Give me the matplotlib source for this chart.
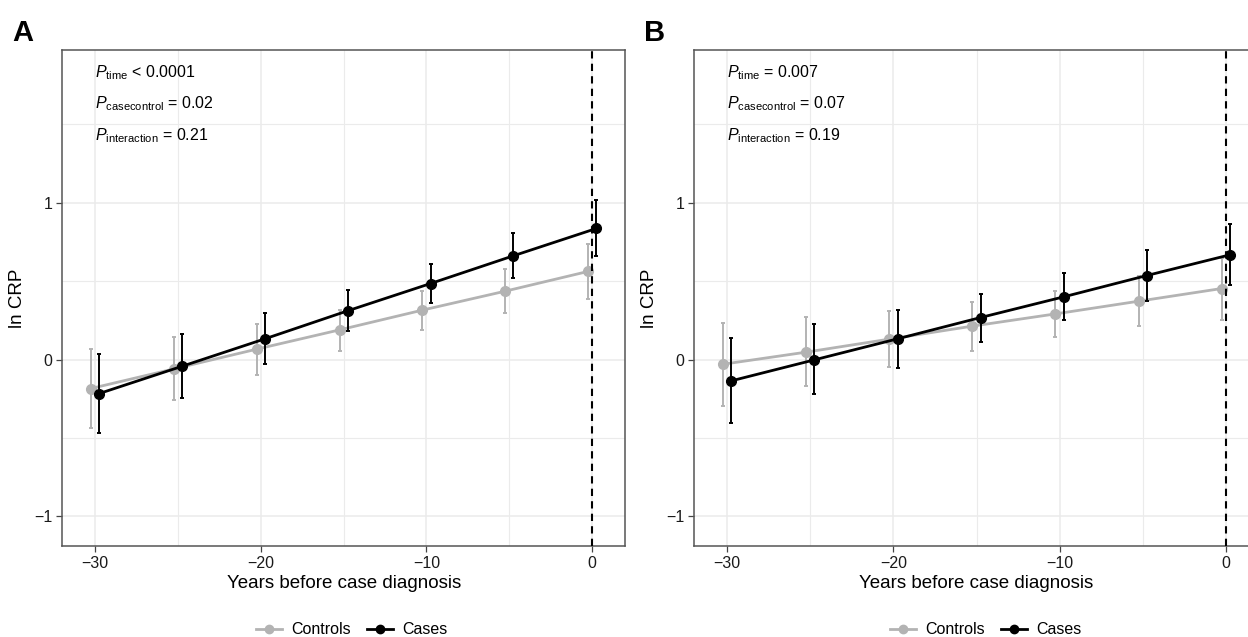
import numpy as np
import matplotlib
matplotlib.use("Agg")
import matplotlib.pyplot as plt
from matplotlib.lines import Line2D

plt.rcParams['font.family'] = ['Liberation Sans', 'DejaVu Sans']
plt.rcParams['mathtext.fontset'] = 'custom'
plt.rcParams['mathtext.rm'] = 'Liberation Sans'
plt.rcParams['mathtext.it'] = 'Liberation Sans:italic'

# years before diagnosis
years = [-30, -25, -20, -15, -10, -5, 0]

# panel A
a_ctrl = [-0.185, -0.06, 0.066, 0.189, 0.315, 0.436, 0.562]
a_ctrl_lo = [-0.434, -0.26, -0.096, 0.055, 0.189, 0.294, 0.383]
a_ctrl_hi = [0.066, 0.145, 0.226, 0.319, 0.438, 0.579, 0.74]
a_case = [-0.217, -0.043, 0.132, 0.311, 0.485, 0.662, 0.836]
a_case_lo = [-0.468, -0.245, -0.026, 0.181, 0.362, 0.521, 0.66]
a_case_hi = [0.034, 0.162, 0.296, 0.443, 0.611, 0.806, 1.017]
a_ptext = [r'$P_{\mathrm{time}}$ < 0.0001',
           r'$P_{\mathrm{casecontrol}}$ = 0.02',
           r'$P_{\mathrm{interaction}}$ = 0.21']

# panel B
b_ctrl = [-0.03, 0.047, 0.13, 0.213, 0.291, 0.372, 0.453]
b_ctrl_lo = [-0.294, -0.166, -0.049, 0.055, 0.145, 0.211, 0.255]
b_ctrl_hi = [0.234, 0.27, 0.311, 0.364, 0.438, 0.534, 0.645]
b_case = [-0.136, -0.002, 0.132, 0.268, 0.4, 0.536, 0.668]
b_case_lo = [-0.406, -0.223, -0.051, 0.111, 0.253, 0.372, 0.477]
b_case_hi = [0.136, 0.226, 0.319, 0.421, 0.551, 0.7, 0.866]
b_ptext = [r'$P_{\mathrm{time}}$ = 0.007',
           r'$P_{\mathrm{casecontrol}}$ = 0.07',
           r'$P_{\mathrm{interaction}}$ = 0.19']

GREY = '#b3b3b3'
W, H = 1248, 637
fig = plt.figure(figsize=(W / 100, H / 100), dpi=100)


def panel(left, right, ctrl, clo, chi, case, cslo, cshi, ptext, letter, legx):
    ax = fig.add_axes([left / W, (H - 546) / H, (right - left) / W, 496 / H])
    x = np.array(years, dtype=float)
    # grid
    for gx in [-30, -20, -10, 0]:
        ax.axvline(gx, color='#ebebeb', lw=1.1, zorder=0)
    for gx in [-25, -15, -5]:
        ax.axvline(gx, color='#ebebeb', lw=0.8, zorder=0)
    for gy in [-1, 0, 1]:
        ax.axhline(gy, color='#ebebeb', lw=1.1, zorder=0)
    for gy in [-0.5, 0.5, 1.5]:
        ax.axhline(gy, color='#ebebeb', lw=0.8, zorder=0)

    xc = x - 0.25
    xk = x + 0.25
    ctrl = np.array(ctrl); case = np.array(case)
    ax.errorbar(xc, ctrl, yerr=[ctrl - np.array(clo), np.array(chi) - ctrl],
                fmt='none', ecolor=GREY, elinewidth=1.4, capsize=1.6, capthick=1.4, zorder=2)
    ax.plot(xc, ctrl, '-o', color=GREY, lw=2.0, ms=7, zorder=3)
    ax.errorbar(xk, case, yerr=[case - np.array(cslo), np.array(cshi) - case],
                fmt='none', ecolor='black', elinewidth=1.4, capsize=1.6, capthick=1.4, zorder=4)
    ax.plot(xk, case, '-o', color='black', lw=2.0, ms=7, zorder=5)

    ax.axvline(0, color='black', lw=1.5, ls=(0, (3.5, 2.5)), zorder=6)

    for t, yy in zip(ptext, [1.83, 1.635, 1.43]):
        ax.text(-30, yy, t, fontsize=11.5, ha='left', va='center', color='black')

    ax.set_xlim(-32.0, 2.0)
    ax.set_ylim(-1.19, 1.975)
    ax.set_xticks([-30, -20, -10, 0])
    ax.set_yticks([-1, 0, 1])
    ax.tick_params(length=4, width=0.9, color='#444444', labelsize=11.5,
                   labelcolor='#1a1a1a', pad=3)
    for s in ax.spines.values():
        s.set_color('#555555')
        s.set_linewidth(1.1)
    ax.set_xlabel('Years before case diagnosis', fontsize=13.5, labelpad=3)
    ax.set_ylabel('ln CRP', fontsize=13.5, labelpad=6)

    fig.text((left - 50) / W, 1 - 33 / H, letter, fontsize=21, fontweight='bold',
             ha='left', va='center')

    handles = [Line2D([], [], color=GREY, marker='o', lw=2.0, ms=6),
               Line2D([], [], color='black', marker='o', lw=2.0, ms=6)]
    fig.legend(handles, ['Controls', 'Cases'], loc='center',
               bbox_to_anchor=(legx / W, 1 - 630 / H), ncol=2, frameon=False,
               fontsize=11.5, handlelength=1.6, handletextpad=0.6, columnspacing=1.0)
    return ax


panel(62, 625.3, a_ctrl, a_ctrl_lo, a_ctrl_hi, a_case, a_case_lo, a_case_hi,
      a_ptext, 'A', 352)
panel(694, 1259, b_ctrl, b_ctrl_lo, b_ctrl_hi, b_case, b_case_lo, b_case_hi,
      b_ptext, 'B', 986)

fig.savefig('out.png', dpi=100)
